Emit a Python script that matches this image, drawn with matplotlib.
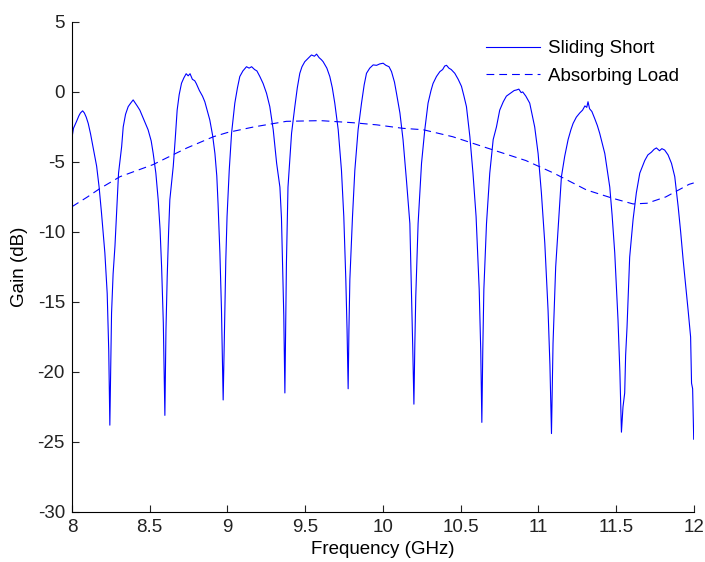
import numpy as np
import matplotlib
matplotlib.use('Agg')
import matplotlib.pyplot as plt

# Sliding short trace (frequency in GHz, gain in dB)
vdSlidingFreq = [8.000, 8.010, 8.030, 8.045, 8.055, 8.069, 8.080, 8.092, 8.105, 8.120,
                 8.137, 8.159, 8.175, 8.190, 8.212, 8.227, 8.237, 8.244, 8.250, 8.255,
                 8.265, 8.277, 8.290, 8.300, 8.320, 8.330, 8.345, 8.362, 8.378, 8.394,
                 8.405, 8.420, 8.437, 8.460, 8.490, 8.510, 8.523, 8.540, 8.555, 8.567,
                 8.577, 8.588, 8.598, 8.605, 8.613, 8.622, 8.630, 8.652, 8.665, 8.677,
                 8.690, 8.705, 8.720, 8.735, 8.748, 8.760, 8.775, 8.790, 8.800, 8.820,
                 8.840, 8.855, 8.870, 8.887, 8.905, 8.920, 8.932, 8.940, 8.952, 8.962,
                 8.973, 8.982, 8.990, 8.998, 9.012, 9.027, 9.048, 9.065, 9.080, 9.100,
                 9.123, 9.140, 9.156, 9.175, 9.190, 9.209, 9.230, 9.252, 9.273, 9.295,
                 9.317, 9.338, 9.348, 9.355, 9.363, 9.370, 9.375, 9.380, 9.390, 9.413,
                 9.434, 9.450, 9.466, 9.480, 9.498, 9.520, 9.541, 9.560, 9.574, 9.590,
                 9.605, 9.616, 9.640, 9.659, 9.675, 9.691, 9.713, 9.734, 9.749, 9.762,
                 9.770, 9.777, 9.782, 9.788, 9.805, 9.820, 9.841, 9.863, 9.880, 9.895,
                 9.916, 9.938, 9.960, 9.980, 10.002, 10.020, 10.040, 10.056, 10.075, 10.088,
                 10.110, 10.130, 10.152, 10.174, 10.185, 10.193, 10.200, 10.206, 10.212, 10.227,
                 10.249, 10.270, 10.291, 10.310, 10.323, 10.345, 10.367, 10.385, 10.398, 10.410,
                 10.425, 10.440, 10.463, 10.485, 10.506, 10.522, 10.538, 10.560, 10.580, 10.600,
                 10.620, 10.630, 10.637, 10.643, 10.650, 10.667, 10.688, 10.710, 10.731, 10.752,
                 10.775, 10.795, 10.820, 10.845, 10.860, 10.875, 10.890, 10.900, 10.920, 10.945,
                 10.977, 10.999, 11.020, 11.042, 11.063, 11.075, 11.085, 11.090, 11.095, 11.112,
                 11.134, 11.149, 11.170, 11.192, 11.210, 11.224, 11.245, 11.267, 11.285, 11.300,
                 11.312, 11.320, 11.330, 11.345, 11.363, 11.380, 11.395, 11.428, 11.460, 11.475,
                 11.492, 11.513, 11.525, 11.535, 11.545, 11.556, 11.562, 11.571, 11.588, 11.610,
                 11.631, 11.653, 11.685, 11.705, 11.728, 11.745, 11.760, 11.780, 11.795, 11.813,
                 11.835, 11.857, 11.878, 11.900, 11.916, 11.932, 11.948, 11.964, 11.980, 11.986,
                 11.993, 12.000]
vdSlidingGain = [-3.3, -2.6, -2.1, -1.7, -1.5, -1.35, -1.5, -1.8, -2.25, -3.0,
                 -4.0, -5.3, -6.8, -8.6, -11.5, -14.4, -18.5, -23.8, -19.5, -15.8,
                 -13.0, -11.0, -8.0, -5.8, -3.9, -2.5, -1.6, -1.05, -0.8, -0.57,
                 -0.75, -1.0, -1.3, -1.9, -2.7, -3.5, -4.4, -5.8, -7.7, -9.8,
                 -12.5, -16.5, -23.1, -17.0, -13.2, -10.0, -7.7, -5.3, -3.3, -1.3,
                 -0.2, 0.62, 1.0, 1.3, 1.15, 1.3, 0.9, 0.8, 0.6, 0.1,
                 -0.3, -0.7, -1.3, -2.0, -3.1, -4.4, -6.0, -7.95, -11.5, -15.5,
                 -22.0, -16.5, -12.0, -8.9, -5.6, -2.95, -0.8, 0.3, 1.1, 1.5,
                 1.8, 1.7, 1.8, 1.6, 1.5, 1.1, 0.6, -0.1, -1.05, -2.7,
                 -5.1, -6.8, -9.0, -12.2, -16.0, -21.5, -16.5, -12.2, -6.8, -2.95,
                 -1.05, 0.3, 1.33, 1.8, 2.16, 2.4, 2.64, 2.55, 2.7, 2.45,
                 2.3, 2.16, 1.7, 1.1, 0.3, -0.8, -2.7, -5.6, -8.9, -13.4,
                 -17.0, -21.2, -17.0, -13.4, -8.9, -5.6, -2.7, -0.8, 0.5, 1.33,
                 1.7, 1.93, 1.9, 2.0, 2.05, 1.9, 1.8, 1.45, 0.7, -0.1,
                 -1.5, -3.4, -6.3, -9.4, -14.6, -18.5, -22.3, -18.0, -14.6, -9.4,
                 -5.1, -2.7, -0.8, 0.1, 0.6, 1.1, 1.45, 1.6, 1.85, 1.9,
                 1.7, 1.6, 1.33, 0.9, 0.4, -0.3, -1.05, -3.2, -5.8, -8.9,
                 -14.1, -18.5, -23.6, -18.5, -14.1, -9.4, -5.8, -3.4, -2.5, -1.3,
                 -0.7, -0.3, -0.1, 0.1, 0.14, 0.2, -0.05, 0.0, -0.3, -0.8,
                 -2.5, -4.4, -7.2, -10.8, -15.6, -19.5, -24.4, -21.0, -17.95, -12.5,
                 -8.7, -6.05, -4.6, -3.4, -2.7, -2.25, -1.8, -1.5, -1.3, -1.0,
                 -1.1, -0.7, -1.2, -1.4, -1.9, -2.4, -2.95, -4.4, -6.8, -8.8,
                 -11.5, -16.3, -20.0, -24.3, -22.5, -21.5, -18.8, -16.8, -11.8, -9.1,
                 -7.2, -5.8, -4.9, -4.5, -4.3, -4.1, -4.0, -4.2, -4.05, -4.15,
                 -4.5, -5.1, -6.05, -8.2, -10.0, -12.0, -13.8, -15.6, -17.5, -20.8,
                 -21.2, -24.8]

# Absorbing load trace
vdLoadFreq = [8.00, 8.10, 8.18, 8.31, 8.52, 8.74, 8.91, 9.00, 9.17, 9.38,
              9.60, 9.81, 9.96, 10.13, 10.26, 10.45, 10.67, 10.92, 11.10, 11.31,
              11.48, 11.61, 11.70, 11.82, 11.97, 12.00]
vdLoadGain = [-8.2, -7.5, -6.9, -6.05, -5.2, -4.0, -3.2, -2.9, -2.5, -2.1,
              -2.05, -2.2, -2.35, -2.6, -2.7, -3.2, -4.0, -4.9, -5.8, -7.0,
              -7.6, -8.0, -7.95, -7.5, -6.6, -6.5]

vdXTicks = [8, 8.5, 9, 9.5, 10, 10.5, 11, 11.5, 12]
vsXTickLabels = ['8', '8.5', '9', '9.5', '10', '10.5', '11', '11.5', '12']
vdYTicks = [-30, -25, -20, -15, -10, -5, 0, 5]

plt.rcParams['font.family'] = ['Liberation Sans', 'DejaVu Sans']
plt.rcParams['axes.unicode_minus'] = False  # MATLAB uses a plain hyphen

fig = plt.figure(figsize=(7.05, 5.62), dpi=100)
ax = fig.add_axes([0.102, 0.089, 0.882, 0.872])

ax.plot(vdSlidingFreq, vdSlidingGain, color='#0000ff', linewidth=0.8, label='Sliding Short')
ax.plot(vdLoadFreq, vdLoadGain, color='#0000ff', linewidth=0.8, linestyle=(0, (7, 4.5)),
        label='Absorbing Load')

ax.set_xlim(8, 12)
ax.set_ylim(-30, 5)
ax.set_xticks(vdXTicks)
ax.set_xticklabels(vsXTickLabels)
ax.set_yticks(vdYTicks)
ax.tick_params(direction='in', length=5, labelsize=13.5, colors='#222222', pad=5)
ax.set_xlabel('Frequency (GHz)', fontsize=13.5, labelpad=4)
ax.set_ylabel('Gain (dB)', fontsize=13.5, labelpad=7)

# MATLAB style "box off"
ax.spines['top'].set_visible(False)
ax.spines['right'].set_visible(False)

ax.legend(loc='upper right', bbox_to_anchor=(1.004, 0.997), frameon=False, fontsize=13.5,
          handlelength=2.9, labelspacing=0.55, handletextpad=0.45)

fig.savefig('out.png', dpi=100)
